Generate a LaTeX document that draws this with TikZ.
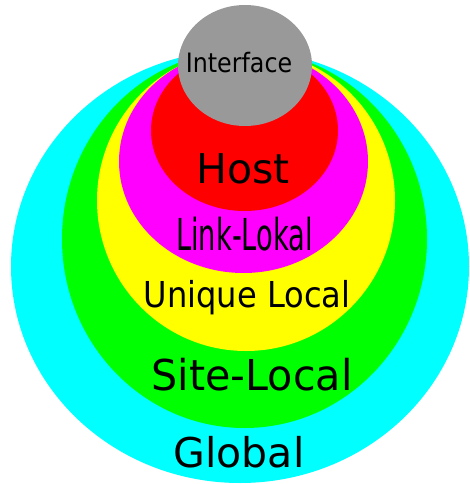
\documentclass[tikz,border=0pt]{standalone}
\usepackage{fontspec}
\setmainfont{DejaVu Sans}
\usetikzlibrary{positioning}
\definecolor{globalcyan}{RGB}{0,255,255}
\definecolor{sitegreen}{RGB}{0,255,0}
\definecolor{uniqueyellow}{RGB}{255,255,0}
\definecolor{linkmagenta}{RGB}{255,0,255}
\definecolor{hostred}{RGB}{255,0,0}
\definecolor{ifacegray}{RGB}{153,153,153}
\newcommand{\scopetext}[3]{\fontsize{#1}{#1}\selectfont\scalebox{#2}[1]{#3}}

\begin{document}
\begin{tikzpicture}[x=1pt,y=-1pt, scopelabel/.style={anchor=base, inner sep=0pt, text=black}]
		\useasboundingbox (0,0) rectangle (469,484);
		\fill[globalcyan] (240,266.5) ellipse [x radius=229pt, y radius=216.5pt];
		\fill[sitegreen] (244.5,239) ellipse [x radius=182.5pt, y radius=189pt];
		\fill[uniqueyellow] (246,200.5) ellipse [x radius=149pt, y radius=150.5pt];
		\fill[linkmagenta] (243.5,161.5) ellipse [x radius=124.5pt, y radius=111.5pt];
		\fill[hostred] (244.5,130.5) ellipse [x radius=93.5pt, y radius=80.5pt];
		\fill[ifacegray] (245,65.5) ellipse [x radius=67pt, y radius=60.5pt];
		
		\node[scopelabel] (iface) at (239,73) {\scopetext{26.7}{0.89}{Interface}};
		\node[scopelabel] (host) at (243,183) {\scopetext{41}{1}{Host}};
		\node[scopelabel] (link) at (244.5,250) {\scopetext{44}{0.62}{Link-Lokal}};
		\node[scopelabel] (unique) at (247,307) {\scopetext{35.7}{0.9}{Unique Local}};
		\node[scopelabel] (site) at (252,390) {\scopetext{42.5}{0.97}{Site-Local}};
		\node[scopelabel] (global) at (239,467) {\scopetext{41}{1}{Global}};
\end{tikzpicture}
\end{document}
